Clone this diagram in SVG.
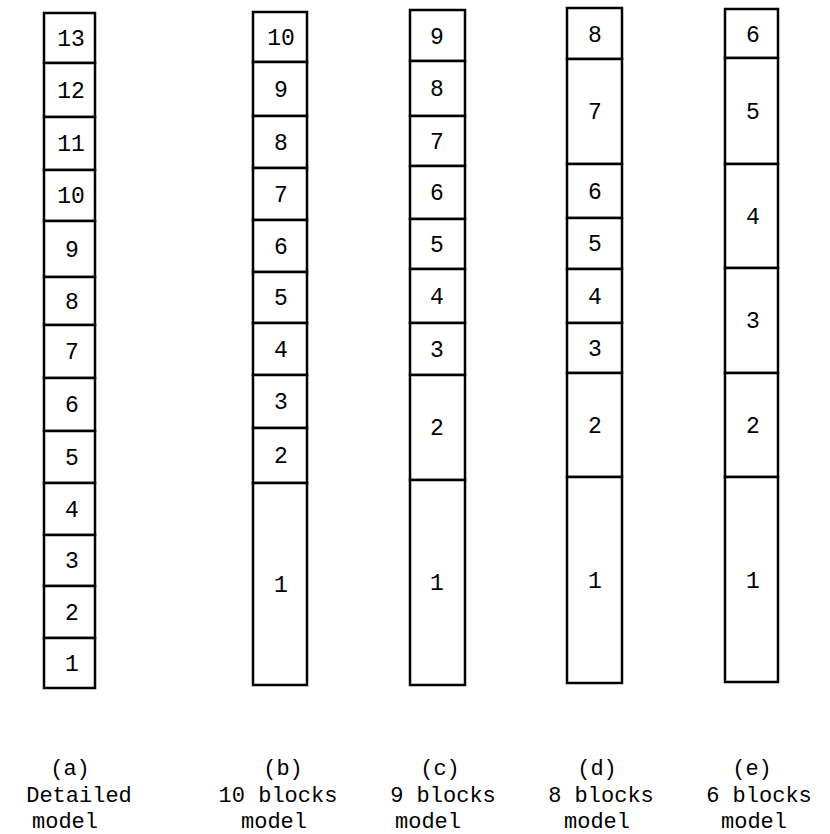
<svg xmlns="http://www.w3.org/2000/svg" width="830" height="834" viewBox="0 0 830 834">
<style>
.b{fill:#fff;stroke:#000;stroke-width:2.5}
.n{font-family:"Liberation Mono","DejaVu Sans Mono",monospace;font-size:23px;fill:#000;text-anchor:middle}
.l{font-family:"Liberation Mono","Courier New",monospace;font-size:22px;fill:#000}
.c{text-anchor:middle}
</style>
<rect width="830" height="834" fill="#fff"/>
<g id="col-a">
<g id="a13"><rect class="b" x="44" y="13" width="51" height="50"/><text class="n" x="71" y="46">13</text></g>
<g id="a12"><rect class="b" x="44" y="63" width="51" height="54"/><text class="n" x="71" y="98">12</text></g>
<g id="a11"><rect class="b" x="44" y="117" width="51" height="53"/><text class="n" x="71" y="151">11</text></g>
<g id="a10"><rect class="b" x="44" y="170" width="51" height="51"/><text class="n" x="71" y="203">10</text></g>
<g id="a9"><rect class="b" x="44" y="221" width="51" height="56"/><text class="n" x="72" y="257">9</text></g>
<g id="a8"><rect class="b" x="44" y="277" width="51" height="48"/><text class="n" x="72" y="309">8</text></g>
<g id="a7"><rect class="b" x="44" y="325" width="51" height="53"/><text class="n" x="72" y="359">7</text></g>
<g id="a6"><rect class="b" x="44" y="378" width="51" height="53"/><text class="n" x="72" y="412">6</text></g>
<g id="a5"><rect class="b" x="44" y="431" width="51" height="52"/><text class="n" x="72" y="465">5</text></g>
<g id="a4"><rect class="b" x="44" y="483" width="51" height="52"/><text class="n" x="72" y="517">4</text></g>
<g id="a3"><rect class="b" x="44" y="535" width="51" height="51"/><text class="n" x="72" y="568">3</text></g>
<g id="a2"><rect class="b" x="44" y="586" width="51" height="52"/><text class="n" x="72" y="620">2</text></g>
<g id="a1"><rect class="b" x="44" y="638" width="51" height="50"/><text class="n" x="72" y="671">1</text></g>
</g>
<g id="col-b">
<g id="b10"><rect class="b" x="253" y="12" width="54" height="50"/><text class="n" x="281" y="45">10</text></g>
<g id="b9"><rect class="b" x="253" y="62" width="54" height="54"/><text class="n" x="281" y="97">9</text></g>
<g id="b8"><rect class="b" x="253" y="116" width="54" height="52"/><text class="n" x="281" y="150">8</text></g>
<g id="b7"><rect class="b" x="253" y="168" width="54" height="52"/><text class="n" x="281" y="202">7</text></g>
<g id="b6"><rect class="b" x="253" y="220" width="54" height="52"/><text class="n" x="281" y="254">6</text></g>
<g id="b5"><rect class="b" x="253" y="272" width="54" height="51"/><text class="n" x="281" y="305">5</text></g>
<g id="b4"><rect class="b" x="253" y="323" width="54" height="52"/><text class="n" x="281" y="357">4</text></g>
<g id="b3"><rect class="b" x="253" y="375" width="54" height="53"/><text class="n" x="281" y="409">3</text></g>
<g id="b2"><rect class="b" x="253" y="428" width="54" height="55"/><text class="n" x="281" y="463">2</text></g>
<g id="b1"><rect class="b" x="253" y="483" width="54" height="202"/><text class="n" x="281" y="592">1</text></g>
</g>
<g id="col-c">
<g id="c9"><rect class="b" x="410" y="10" width="55" height="51"/><text class="n" x="437" y="44">9</text></g>
<g id="c8"><rect class="b" x="410" y="61" width="55" height="55"/><text class="n" x="437" y="96">8</text></g>
<g id="c7"><rect class="b" x="410" y="116" width="55" height="50"/><text class="n" x="437" y="149">7</text></g>
<g id="c6"><rect class="b" x="410" y="166" width="55" height="53"/><text class="n" x="437" y="200">6</text></g>
<g id="c5"><rect class="b" x="410" y="219" width="55" height="50"/><text class="n" x="437" y="252">5</text></g>
<g id="c4"><rect class="b" x="410" y="269" width="55" height="54"/><text class="n" x="437" y="304">4</text></g>
<g id="c3"><rect class="b" x="410" y="323" width="55" height="52"/><text class="n" x="437" y="357">3</text></g>
<g id="c2"><rect class="b" x="410" y="375" width="55" height="105"/><text class="n" x="437" y="435">2</text></g>
<g id="c1"><rect class="b" x="410" y="480" width="55" height="205"/><text class="n" x="437" y="590">1</text></g>
</g>
<g id="col-d">
<g id="d8"><rect class="b" x="567" y="8" width="55" height="51"/><text class="n" x="595" y="42">8</text></g>
<g id="d7"><rect class="b" x="567" y="59" width="55" height="105"/><text class="n" x="595" y="119">7</text></g>
<g id="d6"><rect class="b" x="567" y="164" width="55" height="54"/><text class="n" x="595" y="199">6</text></g>
<g id="d5"><rect class="b" x="567" y="218" width="55" height="51"/><text class="n" x="595" y="251">5</text></g>
<g id="d4"><rect class="b" x="567" y="269" width="55" height="54"/><text class="n" x="595" y="304">4</text></g>
<g id="d3"><rect class="b" x="567" y="323" width="55" height="50"/><text class="n" x="595" y="356">3</text></g>
<g id="d2"><rect class="b" x="567" y="373" width="55" height="104"/><text class="n" x="595" y="433">2</text></g>
<g id="d1"><rect class="b" x="567" y="477" width="55" height="206"/><text class="n" x="595" y="588">1</text></g>
</g>
<g id="col-e">
<g id="e6"><rect class="b" x="725" y="9" width="53" height="49"/><text class="n" x="753" y="42">6</text></g>
<g id="e5"><rect class="b" x="725" y="58" width="53" height="106"/><text class="n" x="753" y="119">5</text></g>
<g id="e4"><rect class="b" x="725" y="164" width="53" height="104"/><text class="n" x="753" y="224">4</text></g>
<g id="e3"><rect class="b" x="725" y="268" width="53" height="105"/><text class="n" x="753" y="328">3</text></g>
<g id="e2"><rect class="b" x="725" y="373" width="53" height="104"/><text class="n" x="753" y="433">2</text></g>
<g id="e1"><rect class="b" x="725" y="477" width="53" height="205"/><text class="n" x="753" y="588">1</text></g>
</g>
<g id="labels">
<text class="l c" x="70" y="775">(a)</text>
<text class="l c" x="283" y="775">(b)</text>
<text class="l c" x="440" y="775">(c)</text>
<text class="l c" x="597" y="775">(d)</text>
<text class="l c" x="752" y="775">(e)</text>
<text class="l c" x="79" y="802">Detailed</text>
<text class="l c" x="278" y="802">10 blocks</text>
<text class="l c" x="443" y="802">9 blocks</text>
<text class="l c" x="601" y="802">8 blocks</text>
<text class="l c" x="759" y="802">6 blocks</text>
<text class="l c" x="65" y="828">model</text>
<text class="l c" x="274" y="828">model</text>
<text class="l c" x="428" y="828">model</text>
<text class="l c" x="597" y="828">model</text>
<text class="l c" x="754" y="828">model</text>
</g>
</svg>
